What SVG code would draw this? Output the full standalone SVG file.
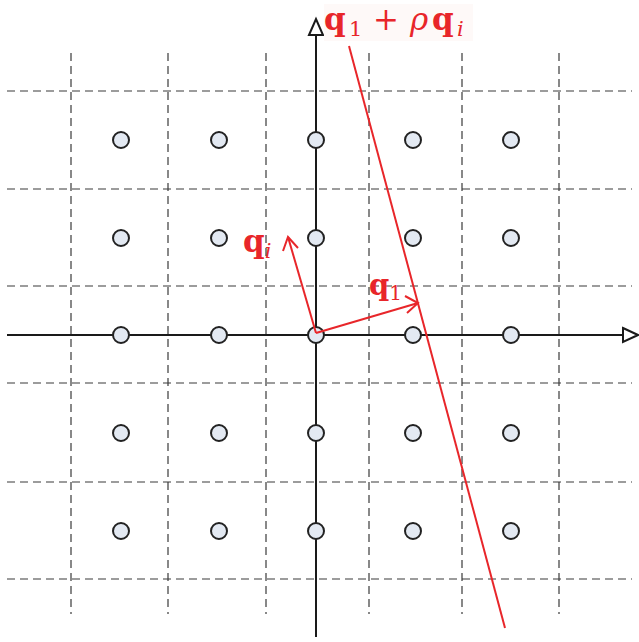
<svg xmlns="http://www.w3.org/2000/svg" width="639" height="642" viewBox="0 0 639 642">
<defs>
<style>
.grid{stroke:#3a3a3a;stroke-width:1.2;stroke-dasharray:8,5;fill:none}
.axis{stroke:#1a1a1a;stroke-width:2;fill:none}
.ahead{stroke:#1a1a1a;stroke-width:2;fill:#fff;stroke-linejoin:miter}
.pt{fill:#e3e9f2;stroke:#222;stroke-width:2}
.red{stroke:#e8262a;stroke-width:2;fill:none}
.lbl{fill:#e8262a;font-family:"DejaVu Serif","Liberation Serif",serif}
</style>
</defs>
<rect width="639" height="642" fill="#fff"/>
<g id="grid">
<line class="grid" x1="7" y1="91" x2="632" y2="91"/>
<line class="grid" x1="7" y1="189" x2="632" y2="189"/>
<line class="grid" x1="7" y1="286" x2="632" y2="286"/>
<line class="grid" x1="7" y1="383" x2="632" y2="383"/>
<line class="grid" x1="7" y1="482" x2="632" y2="482"/>
<line class="grid" x1="7" y1="579" x2="632" y2="579"/>
<line class="grid" x1="71" y1="53" x2="71" y2="614"/>
<line class="grid" x1="168" y1="53" x2="168" y2="614"/>
<line class="grid" x1="266" y1="53" x2="266" y2="614"/>
<line class="grid" x1="369" y1="53" x2="369" y2="614"/>
<line class="grid" x1="462" y1="53" x2="462" y2="614"/>
<line class="grid" x1="559" y1="53" x2="559" y2="614"/>
</g>
<g id="connectors">
<line class="axis" x1="7" y1="335" x2="623" y2="335"/>
<polygon class="ahead" points="623,328 638,335 623,342"/>
<line class="axis" x1="316" y1="637" x2="316" y2="35"/>
<polygon class="ahead" points="309,35 316,19 323,35"/>
</g>
<g id="points">
<circle class="pt" cx="121" cy="140" r="8"/><circle class="pt" cx="219" cy="140" r="8"/><circle class="pt" cx="316" cy="140" r="8"/><circle class="pt" cx="413" cy="140" r="8"/><circle class="pt" cx="511" cy="140" r="8"/>
<circle class="pt" cx="121" cy="238" r="8"/><circle class="pt" cx="219" cy="238" r="8"/><circle class="pt" cx="316" cy="238" r="8"/><circle class="pt" cx="413" cy="238" r="8"/><circle class="pt" cx="511" cy="238" r="8"/>
<circle class="pt" cx="121" cy="335" r="8"/><circle class="pt" cx="219" cy="335" r="8"/><circle class="pt" cx="316" cy="335" r="8"/><circle class="pt" cx="413" cy="335" r="8"/><circle class="pt" cx="511" cy="335" r="8"/>
<circle class="pt" cx="121" cy="433" r="8"/><circle class="pt" cx="219" cy="433" r="8"/><circle class="pt" cx="316" cy="433" r="8"/><circle class="pt" cx="413" cy="433" r="8"/><circle class="pt" cx="511" cy="433" r="8"/>
<circle class="pt" cx="121" cy="531" r="8"/><circle class="pt" cx="219" cy="531" r="8"/><circle class="pt" cx="316" cy="531" r="8"/><circle class="pt" cx="413" cy="531" r="8"/><circle class="pt" cx="511" cy="531" r="8"/>
</g>
<g id="vectors">
<line class="red" x1="349" y1="46" x2="505" y2="628"/>
<line class="red" x1="316" y1="333" x2="418" y2="303"/>
<polyline class="red" points="405,296 418,303 407,313"/>
<line class="red" x1="316" y1="333" x2="288" y2="237"/>
<polyline class="red" points="283,251 288,237 298,248"/>
</g>
<g id="labels">
<rect x="324" y="4" width="149" height="37" fill="#fef9f8"/>
<text class="lbl" y="30" font-size="31"><tspan x="324" font-weight="bold">q</tspan><tspan x="349" y="36" font-size="21">1</tspan><tspan x="373" y="30">+</tspan><tspan x="410" font-style="italic">ρ</tspan><tspan x="432" font-weight="bold">q</tspan><tspan x="457" y="36" font-size="21" font-style="italic">i</tspan></text>
<text class="lbl" x="243" y="252" font-size="31"><tspan font-weight="bold">q</tspan><tspan font-size="21" dy="6" font-style="italic">i</tspan></text>
<text class="lbl" x="369" y="295" font-size="29"><tspan font-weight="bold">q</tspan><tspan font-size="20" dy="5">1</tspan></text>
</g>
</svg>
